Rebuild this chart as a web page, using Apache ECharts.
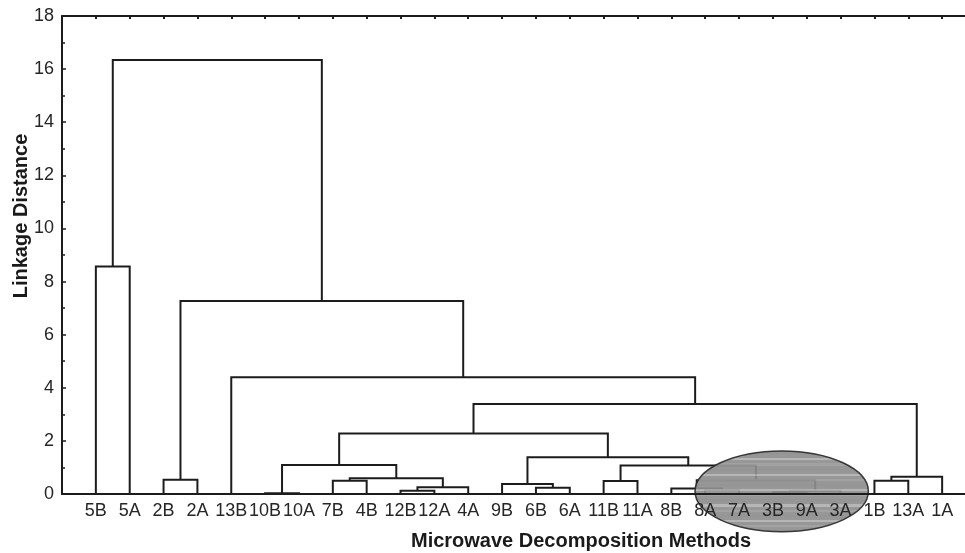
<!DOCTYPE html>
<html>
<head>
<meta charset="utf-8">
<script src="https://cdn.jsdelivr.net/npm/echarts@6/dist/echarts.min.js"></script>
<style>
html,body{margin:0;padding:0;background:#fff;}
#chart{width:965px;height:553px;}
</style>
</head>
<body>
<div id="chart"></div>
<script>
// Leaves (tick labels of the x axis), left to right
const categories = ['5B','5A','2B','2A','13B','10B','10A','7B','4B','12B','12A','4A','9B','6B','6A','11B','11A','8B','8A','7A','3B','9A','3A','1B','13A','1A'];
// Merge table (like a linkage matrix): node ids < 26 are leaves, node 26+k is merge k
const mergeLeft   = [5, 20, 27, 9, 18, 17, 13, 29, 12, 15, 7, 23, 31, 2, 36, 37, 35, 26, 34, 43, 45, 4, 39, 0, 49];
const mergeRight  = [6, 21, 22, 10, 19, 30, 14, 11, 32, 16, 8, 24, 28, 3, 33, 25, 38, 40, 42, 44, 41, 46, 47, 1, 48];
const mergeHeight = [0.03, 0.07, 0.12, 0.12, 0.15, 0.21, 0.24, 0.25, 0.38, 0.49, 0.50, 0.50, 0.52, 0.54, 0.59, 0.65, 1.07, 1.09, 1.38, 2.28, 3.39, 4.40, 7.27, 8.57, 16.34];
// Y axis ticks
const yTicks = [0, 2, 4, 6, 8, 10, 12, 14, 16, 18];

// Annotation ellipse (data units)
const ELLIPSE = {x: 21.26, y: 0.10, rx: 2.56, ry: 1.52};

const nLeaf = categories.length;
const nodeX = [], nodeH = [];
for (let i = 0; i < nLeaf; i++) { nodeX.push(i + 1); nodeH.push(0); }
const links = [];
for (let k = 0; k < mergeHeight.length; k++) {
  const a = mergeLeft[k], b = mergeRight[k], h = mergeHeight[k];
  links.push([nodeX[a], nodeH[a], nodeX[b], nodeH[b], h]);
  nodeX.push((nodeX[a] + nodeX[b]) / 2);
  nodeH.push(h);
}

const chart = echarts.init(document.getElementById('chart'), null, {renderer: 'canvas'});
const INK = '#1c1c1c';
const FONT = 'Liberation Sans, Arial, Helvetica, sans-serif';

chart.setOption({
  animation: false,
  backgroundColor: '#ffffff',
  grid: {left: 62, top: 16, right: -11, bottom: 59, containLabel: false, outerBoundsMode: 'none'},
  xAxis: [{
    type: 'value', position: 'bottom', min: 0, max: nLeaf + 1, interval: 1, z: 10,
    axisLine: {show: true, onZero: false, lineStyle: {color: INK, width: 2}},
    axisTick: {show: false},
    splitLine: {show: false},
    axisLabel: {
      show: true, fontSize: 18, color: '#262626', fontFamily: FONT, margin: 8, hideOverlap: false,
      formatter: v => (v >= 1 && v <= nLeaf && Number.isInteger(v)) ? categories[v - 1] : ''
    }
  }, {
    type: 'value', position: 'top', min: 0, max: nLeaf + 1, interval: 1,
    axisLine: {show: true, onZero: false, lineStyle: {color: INK, width: 2}},
    axisTick: {show: true, inside: true, length: 3, lineStyle: {color: INK, width: 2}},
    axisLabel: {show: false},
    splitLine: {show: false}
  }],
  yAxis: {
    type: 'value', min: yTicks[0], max: yTicks[yTicks.length - 1], interval: yTicks[1] - yTicks[0],
    axisLine: {show: true, onZero: false, lineStyle: {color: INK, width: 2}},
    axisTick: {show: true, inside: true, length: 4, lineStyle: {color: INK, width: 1.5}},
    minorTick: {show: true, splitNumber: 2, length: 3, lineStyle: {color: INK, width: 1.5}},
    splitLine: {show: false},
    axisLabel: {fontSize: 18, color: '#262626', fontFamily: FONT, margin: 8}
  },
  series: [{
    type: 'custom',
    xAxisIndex: 0, yAxisIndex: 0,
    z: 2,
    encode: {x: [0, 2], y: [1, 4]},
    data: links,
    renderItem: function (params, api) {
      const xl = api.value(0), hl = api.value(1), xr = api.value(2), hr = api.value(3), h = api.value(4);
      return {
        type: 'polyline',
        shape: {points: [api.coord([xl, hl]), api.coord([xl, h]), api.coord([xr, h]), api.coord([xr, hr])]},
        style: {stroke: INK, lineWidth: 2, fill: null}
      };
    }
  }]
});

// Annotation: grey striped ellipse and axis titles
const c = chart.convertToPixel({xAxisIndex: 0, yAxisIndex: 0}, [ELLIPSE.x, ELLIPSE.y]);
const p0 = chart.convertToPixel({xAxisIndex: 0, yAxisIndex: 0}, [0, 0]);
const p1 = chart.convertToPixel({xAxisIndex: 0, yAxisIndex: 0}, [1, 1]);
const rxPx = ELLIPSE.rx * Math.abs(p1[0] - p0[0]);
const ryPx = ELLIPSE.ry * Math.abs(p1[1] - p0[1]);
const stops = [];
const bands = 16;
for (let i = 0; i < bands; i++) {
  const s = i / bands, e = (i + 1) / bands;
  const light = (i % 3 === 1) ? '#b0b0b0' : (i % 3 === 2 ? '#9a9a9a' : '#8c8c8c');
  stops.push({offset: s, color: '#8e8e8e'});
  stops.push({offset: s + (e - s) * 0.55, color: '#8e8e8e'});
  stops.push({offset: s + (e - s) * 0.56, color: light});
  stops.push({offset: e - 0.001, color: light});
}
chart.setOption({
  graphic: [{
    type: 'ellipse', z: 5,
    shape: {cx: c[0], cy: c[1], rx: rxPx, ry: ryPx},
    style: {
      fill: new echarts.graphic.LinearGradient(0, 0, 0, 1, stops),
      stroke: '#2a2a2a', lineWidth: 1.5, opacity: 0.92
    }
  }, {
    type: 'text', z: 20, x: 581, y: 541,
    style: {text: 'Microwave Decomposition Methods', font: 'bold 20px ' + FONT, fill: '#1a1a1a', align: 'center', verticalAlign: 'middle'}
  }, {
    type: 'text', z: 20, x: 21, y: 216, rotation: Math.PI / 2,
    style: {text: 'Linkage Distance', font: 'bold 20px ' + FONT, fill: '#1a1a1a', align: 'center', verticalAlign: 'middle'}
  }]
});
</script>
</body>
</html>
